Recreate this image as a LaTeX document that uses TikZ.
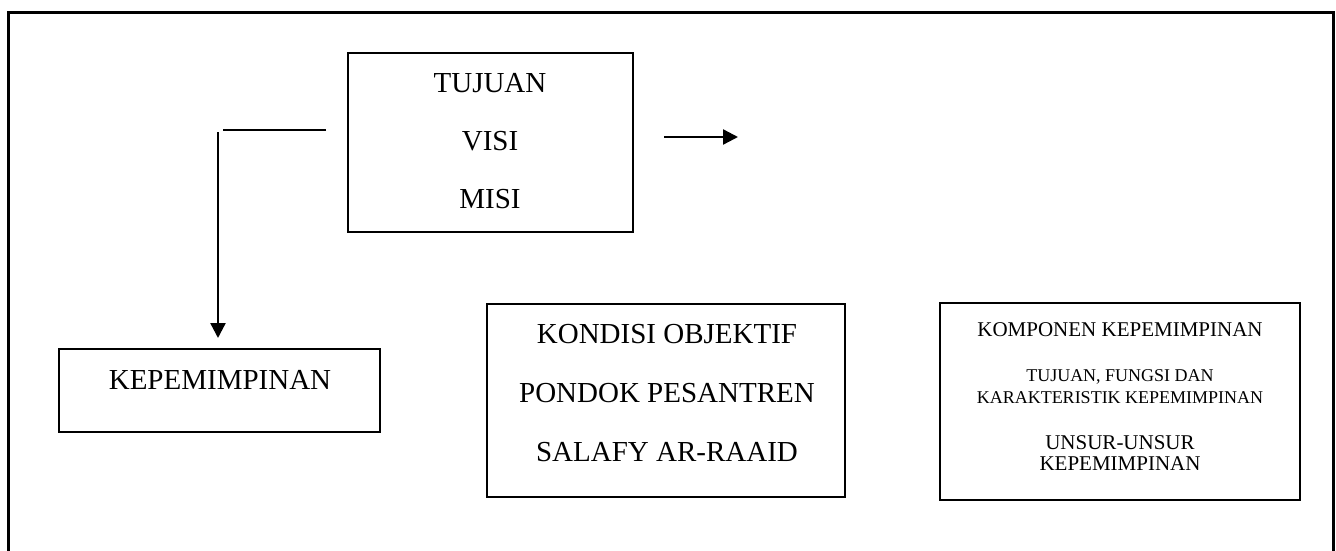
\documentclass[tikz,border=0pt]{standalone}
\usepackage{fontspec}
\setmainfont{Liberation Serif}
\usetikzlibrary{positioning,arrows.meta}
\tikzset{
  box/.style={draw, line width=2pt, inner sep=0pt},
  big/.style={font=\fontsize{29}{58}\selectfont, align=center, inner sep=0pt, anchor=north},
  small/.style={font=\fontsize{21}{21}\selectfont, align=center, inner sep=0pt, anchor=north},
  link/.style={line width=2.4pt},
  tip/.style={-{Triangle[length=15pt, width=15pt]}},
}
\begin{document}
\begin{tikzpicture}[x=1pt, y=-1pt]
    \useasboundingbox (0,0) rectangle (1336,551);
    \draw[line width=3pt] (8,553) -- (8,13) -- (1333,13) -- (1333,553);
    % boxes
    \node[box, minimum width=285, minimum height=179] (goal) at (490.5,142.5) {};
    \node[box, minimum width=321, minimum height=83] (lead) at (219.5,390.5) {};
    \node[box, minimum width=358, minimum height=193] (cond) at (666,400.5) {};
    \node[box, minimum width=360, minimum height=197] (comp) at (1120,401.5) {};
    % texts
    \node[big] (goaltxt) at (490,73) {TUJUAN\\VISI\\MISI};
    \node[big] (leadtxt) at (220,370) {KEPEMIMPINAN};
    \node[big, font=\fontsize{29}{59}\selectfont] (condtxt) at (667,324) {KONDISI OBJEKTIF\\PONDOK PESANTREN\\SALAFY AR-RAAID};
    \node[small] (comp1) at (1120,322) {KOMPONEN KEPEMIMPINAN};
    \node[small, font=\fontsize{18}{22}\selectfont] (comp2) at (1120,369) {TUJUAN, FUNGSI DAN\\KARAKTERISTIK KEPEMIMPINAN};
    \node[small] (comp3) at (1120,435) {UNSUR-UNSUR\\KEPEMIMPINAN};
    % connectors
    \coordinate (h1) at (326,130);
    \coordinate (h2) at (223,130);
    \coordinate (v1) at (218,132);
    \coordinate (v2) at (218,338);
    \coordinate (r1) at (664,137);
    \coordinate (r2) at (738,137);
    \draw[link] (h1) -- (h2);
    \draw[link, tip] (v1) -- (v2);
    \draw[link, tip] (r1) -- (r2);
\end{tikzpicture}
\end{document}
